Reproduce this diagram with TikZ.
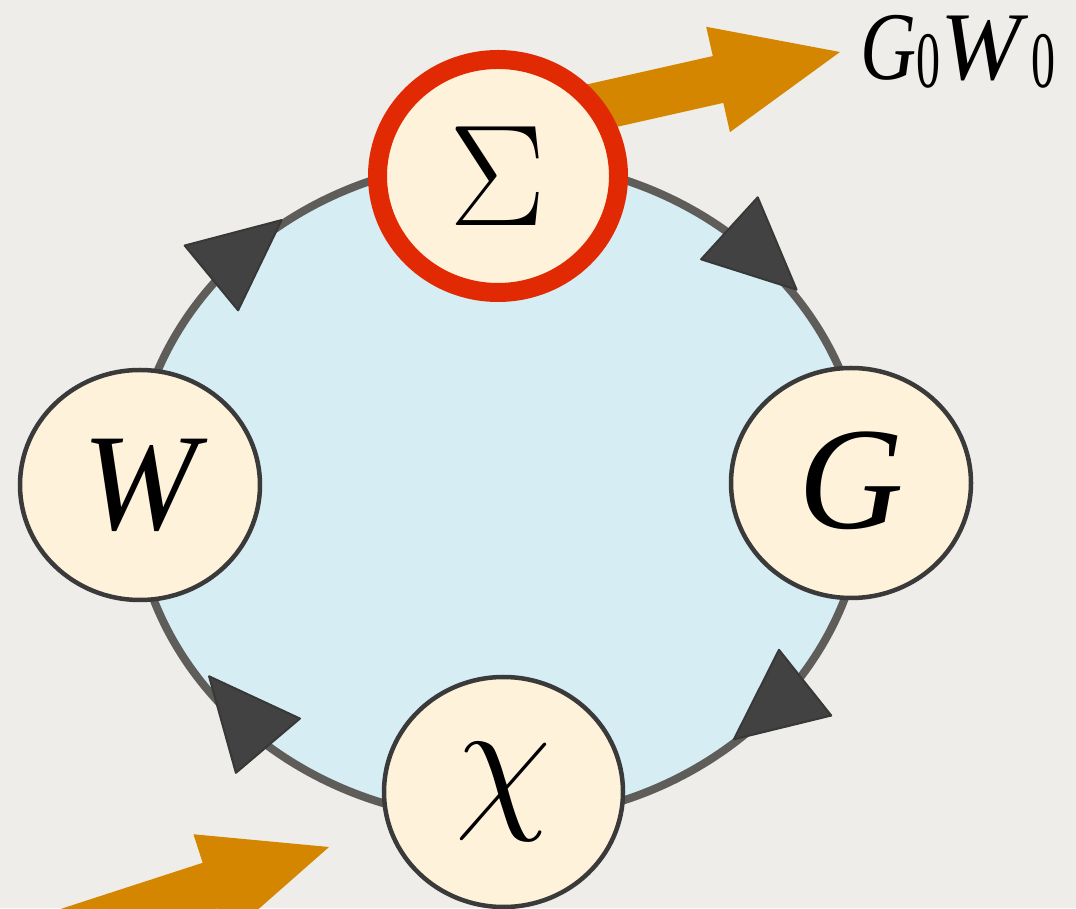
\documentclass[tikz,border=0pt]{standalone}
\usepackage{fontspec}
\setmainfont{Liberation Serif}
\usepackage{graphicx}
\usetikzlibrary{shapes.geometric}
\definecolor{bgcol}{HTML}{EEEDE9}
\definecolor{ringfill}{HTML}{D6EDF4}
\definecolor{ringline}{HTML}{5E5D5A}
\definecolor{cream}{HTML}{FEF2DA}
\definecolor{nodeline}{HTML}{3A3A3A}
\definecolor{sigmared}{HTML}{E12A03}
\definecolor{arroworange}{HTML}{D48600}
\definecolor{tipfill}{HTML}{424242}
\definecolor{tipline}{HTML}{383838}
\newcommand{\mysubzero}{\raisebox{-8pt}{\scalebox{0.6}[1]{\fontsize{80}{80}\selectfont\upshape 0}}}
\begin{document}
\begin{tikzpicture}[x=1pt,y=1pt,
  cyc/.style={ellipse, draw=nodeline, line width=4.5pt, fill=cream, inner sep=0pt},
  ringtip/.pic={\filldraw[fill=tipfill, draw=tipline, line width=2pt, line join=round]
      (45.5,0) -- (-45.5,42) -- (-45.5,-42) -- cycle;},
  fatarrow/.pic={\fill[arroworange] (0,0) -- (-125,54) -- (-125,24) -- (-#1,24)
      -- (-#1,-24) -- (-125,-24) -- (-125,-54) -- cycle;}]
\useasboundingbox (0,0) rectangle (1076,908);
\fill[bgcol] (0,0) rectangle (1076,908);
\begin{scope}
\clip (0,0) rectangle (1076,908);
% ring
\coordinate (ringc) at (499,418);
\filldraw[fill=ringfill, draw=ringline, line width=8pt] (ringc) ellipse [x radius=366, y radius=330];
% arrowheads on the ring (clockwise cycle)
\pic[rotate=39.5] at (246.5,659) {ringtip};
\pic[rotate=-42.4] at (763,649) {ringtip};
\pic[rotate=218.5] at (769.5,197) {ringtip};
\pic[rotate=130.3] at (238.5,197) {ringtip};
% orange arrows
\coordinate (tipA) at (840,856);
\coordinate (tipB) at (329,61);
\pic[rotate=12.7] at (tipA) {fatarrow=290};
\pic[rotate=18] at (tipB) {fatarrow=340};
% nodes
\node[cyc, minimum width=240pt, minimum height=230pt] (W) at (140,423)
  {\raisebox{-5pt}{\fontsize{138}{138}\selectfont\itshape W}};
\node[cyc, minimum width=240pt, minimum height=230pt] (G) at (851,425)
  {\raisebox{5pt}{\fontsize{146}{146}\selectfont\itshape G}};
\node[cyc, minimum width=239pt, minimum height=230pt] (chi) at (503.5,116)
  {\scalebox{6.3}{\Huge$\chi$}};
\node[cyc, draw=sigmared, line width=19pt, minimum width=241pt, minimum height=233pt] (S) at (498,732)
  {\raisebox{-7pt}{\scalebox{5.8}{\Huge$\Sigma$}}};
% label
\node[anchor=base west, inner sep=0pt] (lbl) at (860,828)
  {\fontsize{97}{97}\selectfont\itshape\scalebox{0.8}[1]{G}\mysubzero W\kern10pt\mysubzero};
\end{scope}
\end{tikzpicture}
\end{document}
